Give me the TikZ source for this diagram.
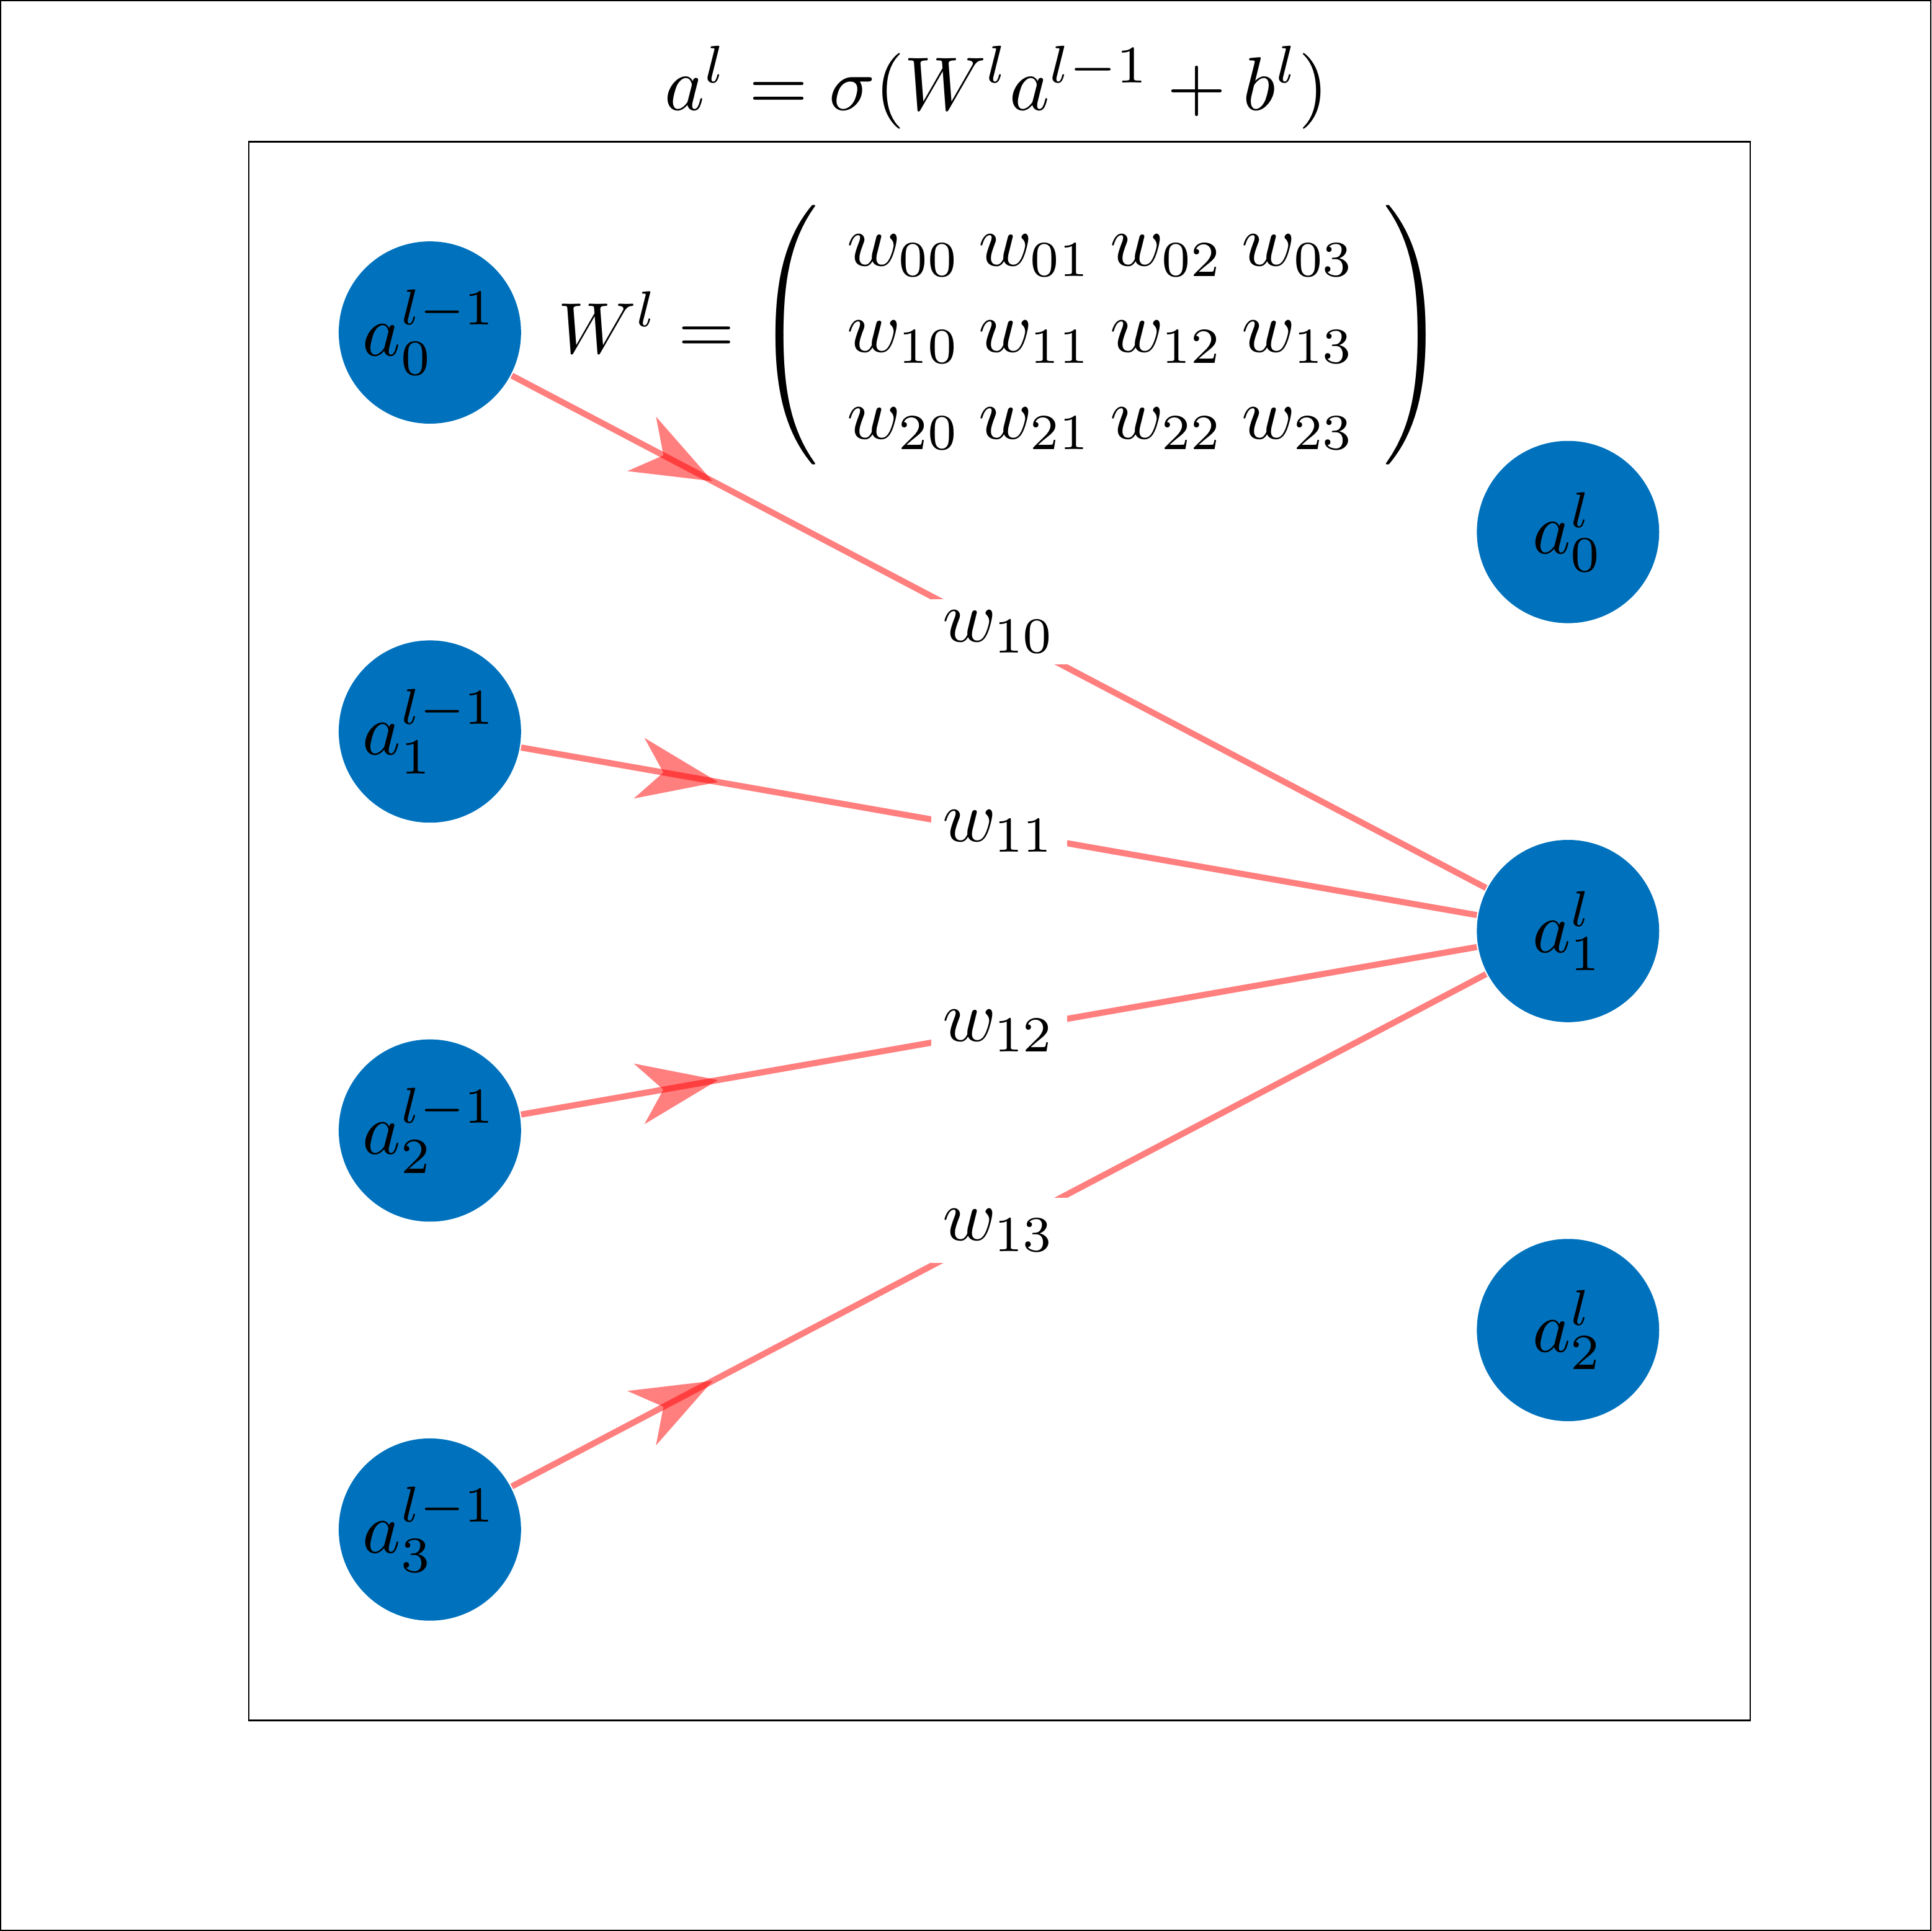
\documentclass[tikz,border=0pt]{standalone}
\usetikzlibrary{arrows.meta,decorations.markings}
\definecolor{unitblue}{RGB}{0,114,189}
\tikzset{
  unit/.style={circle,fill=unitblue,inner sep=0pt,minimum size=8.88mm},
  wire/.style={red,opacity=0.5,line width=0.85pt,
    decoration={markings,mark=at position 0.206 with
      {\arrow{Stealth[length=3.9mm,width=3.0mm,inset=1.2mm,line width=0pt]}}},
    postaction={decorate}},
  wlabel/.style={fill=white,text=black,inner sep=1.6pt,opacity=1}
}
\begin{document}
\begin{tikzpicture}[x=0.06mm,y=-0.06mm]
\useasboundingbox (0,0) rectangle (1568,1568);
\draw[line width=0.2pt] (0.5,0.5) rectangle (1567.5,1567.5);
\draw[line width=0.2pt] (202,115) rectangle (1421,1397);
\node[scale=1.05] (title) at (809,71) {$a^l=\sigma(W^la^{l-1}+b^l)$};
\node[anchor=west,inner sep=0pt] (wmat) at (452,272)
  {$W^l=\left(\;\setlength{\arraycolsep}{1.3pt}\begin{array}{cccc}
  w_{00} & w_{01} & w_{02} & w_{03}\\
  w_{10} & w_{11} & w_{12} & w_{13}\\
  w_{20} & w_{21} & w_{22} & w_{23}
  \end{array}\;\right)$};
% layer l-1
\foreach \i in {0,...,3}{
\node[unit] (a\i) at (349,270+324*\i) {$a_{\i}^{l-1}$};
}
% layer l
\foreach \j in {0,1,2}{
\node[unit] (b\j) at (1273,432+324*\j) {$a_{\j}^{l}$};
}
\foreach \i in {0,...,3}{
\draw[wire] (a\i) -- node[wlabel] {$w_{1\i}$} (b1);
}
\end{tikzpicture}
\end{document}
